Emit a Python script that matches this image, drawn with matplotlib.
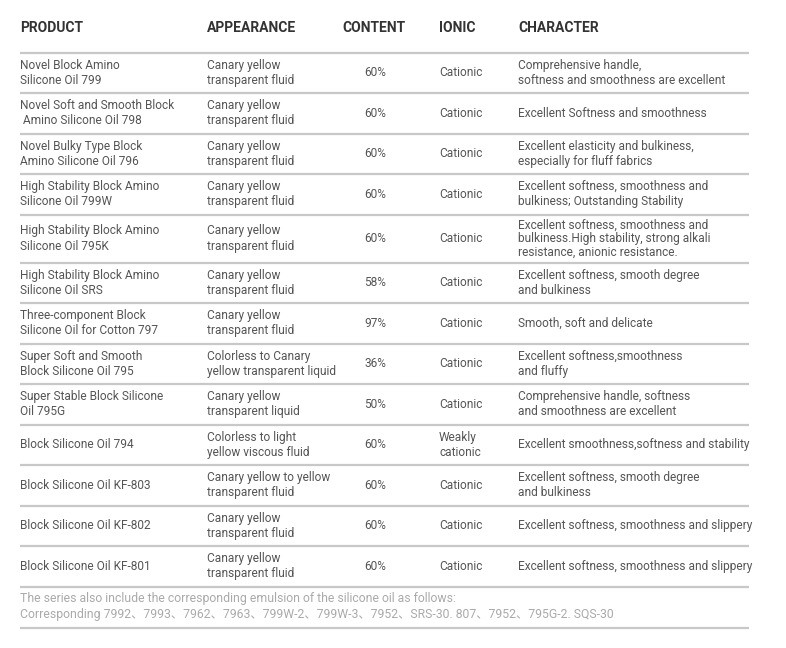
import matplotlib
matplotlib.use("Agg")
import matplotlib.pyplot as plt

headers = ["PRODUCT", "APPEARANCE", "CONTENT", "IONIC", "CHARACTER"]

products = [
    "Novel Block Amino\nSilicone Oil 799",
    "Novel Soft and Smooth Block\n Amino Silicone Oil 798",
    "Novel Bulky Type Block\nAmino Silicone Oil 796",
    "High Stability Block Amino\nSilicone Oil 799W",
    "High Stability Block Amino\nSilicone Oil 795K",
    "High Stability Block Amino\nSilicone Oil SRS",
    "Three-component Block\nSilicone Oil for Cotton 797",
    "Super Soft and Smooth\nBlock Silicone Oil 795",
    "Super Stable Block Silicone\nOil 795G",
    "Block Silicone Oil 794",
    "Block Silicone Oil KF-803",
    "Block Silicone Oil KF-802",
    "Block Silicone Oil KF-801",
]

appearance = [
    "Canary yellow\ntransparent fluid",
    "Canary yellow\ntransparent fluid",
    "Canary yellow\ntransparent fluid",
    "Canary yellow\ntransparent fluid",
    "Canary yellow\ntransparent fluid",
    "Canary yellow\ntransparent fluid",
    "Canary yellow\ntransparent fluid",
    "Colorless to Canary\nyellow transparent liquid",
    "Canary yellow\ntransparent liquid",
    "Colorless to light\nyellow viscous fluid",
    "Canary yellow to yellow\ntransparent fluid",
    "Canary yellow\ntransparent fluid",
    "Canary yellow\ntransparent fluid",
]

content = ["60%", "60%", "60%", "60%", "60%", "58%", "97%", "36%", "50%",
           "60%", "60%", "60%", "60%"]

ionic = ["Cationic", "Cationic", "Cationic", "Cationic", "Cationic", "Cationic",
         "Cationic", "Cationic", "Cationic", "Weakly\ncationic", "Cationic",
         "Cationic", "Cationic"]

character = [
    "Comprehensive handle,\nsoftness and smoothness are excellent",
    "Excellent Softness and smoothness",
    "Excellent elasticity and bulkiness,\nespecially for fluff fabrics",
    "Excellent softness, smoothness and\nbulkiness; Outstanding Stability",
    "Excellent softness, smoothness and\nbulkiness.High stability, strong alkali\nresistance, anionic resistance.",
    "Excellent softness, smooth degree\nand bulkiness",
    "Smooth, soft and delicate",
    "Excellent softness,smoothness\nand fluffy",
    "Comprehensive handle, softness\nand smoothness are excellent",
    "Excellent smoothness,softness and stability",
    "Excellent softness, smooth degree\nand bulkiness",
    "Excellent softness, smoothness and slippery",
    "Excellent softness, smoothness and slippery",
]

footer = ("The series also include the corresponding emulsion of the silicone oil as follows:\n"
          "Corresponding 7992\u30017993\u30017962\u30017963\u3001799W-2\u3001799W-3\u30017952\u3001SRS-30. 807\u30017952\u3001795G-2. SQS-30")

# ---- layout ----
W, H = 786, 648
fig = plt.figure(figsize=(W / 100, H / 100), dpi=100)
ax = fig.add_axes([0, 0, 1, 1])
ax.set_xlim(0, W)
ax.set_ylim(H, 0)
ax.axis("off")

FONT = ["Roboto", "Noto Sans CJK SC", "DejaVu Sans"]
body_color = "#555555"
head_color = "#333333"
line_color = "#c8c8c8"
x_left, x_right = 20, 749
col_x = [20, 207, 375, 439, 518]
col_ha = ["left", "left", "center", "left", "left"]
head_x = [20, 207, 342, 439, 518]
body_size = 8.6
head_size = 10

# header
for x, h in zip(head_x, headers):
    ax.text(x, 28, h, fontsize=head_size, fontweight="bold", color=head_color,
            ha="left", va="center", family=FONT)

y = 52.5
ax.plot([x_left, x_right], [y, y], color=line_color, lw=1.6, solid_capstyle="butt")
for i in range(len(products)):
    cells = [products[i], appearance[i], content[i], ionic[i], character[i]]
    nlines = max(c.count("\n") + 1 for c in cells)
    h = 48 if nlines >= 3 else 40.5
    yc = y + h / 2
    for x, c, ha in zip(col_x, cells, col_ha):
        ls = 1.05 if c.count("\n") >= 2 else 1.22
        ax.text(x, yc, c, fontsize=body_size, color=body_color, ha=ha,
                va="center", family=FONT, linespacing=ls,
                multialignment="left")
    y += h
    ax.plot([x_left, x_right], [y, y], color=line_color, lw=1.6, solid_capstyle="butt")

ax.text(20, 606.5, footer, fontsize=8.8, color="#aaaaaa", ha="left", va="center",
        family=FONT, linespacing=1.25)
ax.plot([x_left, x_right], [628, 628], color=line_color, lw=1.6, solid_capstyle="butt")

fig.savefig("out.png", dpi=100, facecolor="white")
